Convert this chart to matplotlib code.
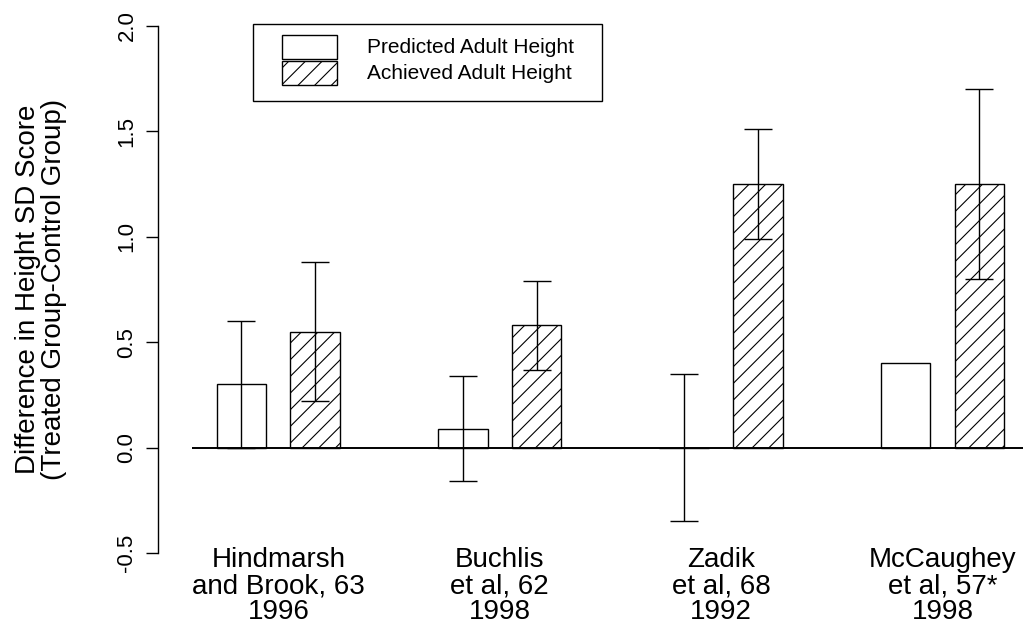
import numpy as np
import matplotlib.pyplot as plt
from matplotlib.patches import Rectangle

plt.rcParams["font.family"] = ["Liberation Sans", "DejaVu Sans"]
plt.rcParams["axes.unicode_minus"] = False
plt.rcParams["hatch.linewidth"] = 0.8

# study labels and height SD score differences (treated - control)
studies = [
    "Hindmarsh\nand Brook, 63\n1996",
    "Buchlis\net al, 62\n1998",
    "Zadik\net al, 68\n1992",
    "McCaughey\net al, 57*\n1998",
]
predicted = [0.30, 0.09, 0.00, 0.40]
predicted_err = [0.30, 0.25, 0.35, np.nan]
achieved = [0.55, 0.58, 1.25, 1.25]
achieved_err = [0.33, 0.21, 0.26, 0.45]
yticks = [-0.5, 0.0, 0.5, 1.0, 1.5, 2.0]

W, H = 1023, 626
fig = plt.figure(figsize=(W / 100, H / 100), dpi=100)
ax = fig.add_axes([158 / W, 1 - 553 / H, 1 - 158 / W, (553 - 26) / H])

x_pred = np.arange(len(studies)) * 3.0
x_ach = x_pred + 1.0
width = 0.672

ax.bar(x_pred, predicted, width, color="white", edgecolor="black",
       linewidth=1.0, zorder=2)
ax.bar(x_ach, achieved, width, color="white", edgecolor="black",
       linewidth=1.0, hatch="//", zorder=2)
ax.errorbar(x_pred, predicted, yerr=predicted_err, fmt="none",
            ecolor="black", elinewidth=1.0, capsize=10.4, capthick=1.0,
            zorder=3)
ax.errorbar(x_ach, achieved, yerr=achieved_err, fmt="none",
            ecolor="black", elinewidth=1.0, capsize=10.4, capthick=1.0,
            zorder=3)

x_left = -1.131
x_right = x_left + (W - 158) / 73.8
ax.set_xlim(x_left, x_right)
ax.set_ylim(-0.5, 2.0)
ax.hlines(0, -0.67, x_right, colors="black", linewidth=1.4, zorder=4)

for side in ("top", "right", "bottom"):
    ax.spines[side].set_visible(False)
ax.spines["left"].set_linewidth(1.0)

ax.set_yticks(yticks)
ax.set_yticklabels([f"{v:.1f}" for v in yticks], rotation=90,
                   va="center", ha="right", fontsize=16)
ax.tick_params(axis="y", length=8.3, width=1.0, pad=6.5)

ax.set_xticks((x_pred + x_ach) / 2)
ax.set_xticklabels(studies, fontsize=20, linespacing=1.0)
ax.tick_params(axis="x", length=0, pad=-4)

ax.set_ylabel("Difference in Height SD Score\n(Treated Group-Control Group)",
              fontsize=20, linespacing=1.0)
ax.yaxis.set_label_coords(-0.105, 0.5)

# legend box drawn in pixel space
def px(x, y):
    return x / W, 1 - y / H

fig.canvas.draw()
labels = ["Predicted Adult Height", "Achieved Adult Height"]
hatches = [None, "//"]
texts = []
for i, (lab, hatch) in enumerate(zip(labels, hatches)):
    top = 35.3 + i * 26
    x0, y0 = px(281.7, top + 24)
    fig.add_artist(Rectangle((x0, y0), 55.6 / W, 24 / H,
                             transform=fig.transFigure, facecolor="white",
                             edgecolor="black", linewidth=1.0, hatch=hatch,
                             zorder=6))
    tx, ty = px(367, top + 12)
    texts.append(fig.text(tx, ty, lab, fontsize=15, va="center", ha="left",
                          zorder=6))

renderer = fig.canvas.get_renderer()
text_right = max(t.get_window_extent(renderer).x1 for t in texts)
bx0, by0 = px(253.3, 100.7)
fig.add_artist(Rectangle((bx0, by0), (text_right + 28 - 253.3) / W,
                         (100.7 - 24) / H, transform=fig.transFigure,
                         facecolor="white", edgecolor="black", linewidth=1.0,
                         zorder=5))

fig.savefig("out.png", dpi=100)
